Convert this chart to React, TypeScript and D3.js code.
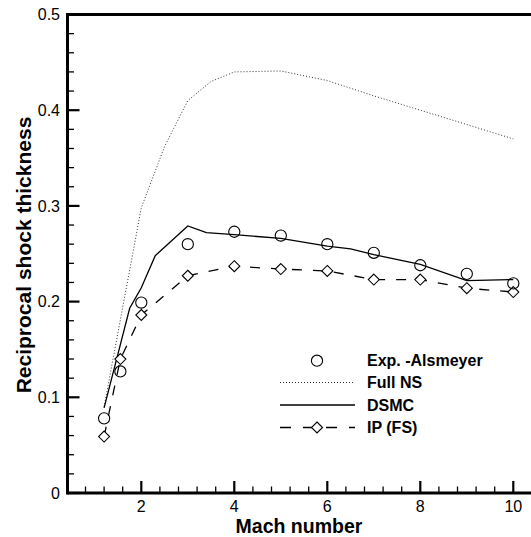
import React from "react";
import * as d3 from "d3";

const W = 531;
const H = 537;

const expMach = [1.2, 1.55, 2, 3, 4, 5, 6, 7, 8, 9, 10];
const expValues = [0.078, 0.127, 0.199, 0.26, 0.273, 0.269, 0.26, 0.251, 0.238, 0.229, 0.219];

const nsMach = [1.2, 2, 2.5, 3, 3.5, 4, 5, 6, 7, 8, 9, 10];
const nsValues = [0.09, 0.298, 0.362, 0.41, 0.43, 0.44, 0.441, 0.431, 0.415, 0.4, 0.385, 0.37];

const dsmcMach = [1.2, 1.75, 2, 2.3, 3, 3.4, 4, 5, 6, 6.5, 7, 8, 9, 10];
const dsmcValues = [0.089, 0.193, 0.2145, 0.248, 0.279, 0.272, 0.27, 0.266, 0.258, 0.255, 0.249, 0.239, 0.222, 0.223];

const ipMach = [1.2, 1.55, 2, 3, 4, 5, 6, 7, 8, 9, 10];
const ipValues = [0.059, 0.14, 0.186, 0.227, 0.237, 0.234, 0.232, 0.223, 0.223, 0.214, 0.21];

const xMajorTicks = [2, 4, 6, 8, 10];
const yMajorTicks = [0, 0.1, 0.2, 0.3, 0.4, 0.5];
const legendLabels = ["Exp. -Alsmeyer", "Full NS", "DSMC", "IP (FS)"];

const FONT = "'Liberation Sans', Arial, Helvetica, sans-serif";

export default function App() {
  const left = 67.5;
  const top = 14.5;
  const bottom = 493;
  const x = d3.scaleLinear().domain([2, 10]).range([141.3, 513.3]);
  const xMin = x.invert(left);
  const y = d3.scaleLinear().domain([0, 0.5]).range([bottom, top]);

  const line = d3
    .line<[number, number]>()
    .x((d) => x(d[0]))
    .y((d) => y(d[1]));

  const zip = (a: number[], b: number[]) => a.map((v, i) => [v, b[i]] as [number, number]);

  const xMinor: number[] = [];
  for (let v = 0.8; v < 10.6; v += 0.4) {
    const r = Math.round(v * 10) / 10;
    if (!xMajorTicks.includes(r)) xMinor.push(r);
  }
  const yMinor: number[] = [];
  for (let v = 0.02; v < 0.5; v += 0.02) {
    const r = Math.round(v * 100) / 100;
    if (Math.abs(r * 10 - Math.round(r * 10)) > 1e-6) yMinor.push(r);
  }

  const diamond = (cx: number, cy: number, s = 5.5) =>
    `M${cx},${cy - s}L${cx + s},${cy}L${cx},${cy + s}L${cx - s},${cy}Z`;

  const legendX0 = 280;
  const legendX1 = 355;
  const legendTextX = 367;
  const legendRows = [360.7, 382.5, 405, 427.5];

  return (
    <svg
      width={W}
      height={H}
      style={{ position: "absolute", left: 0, top: 0, background: "#fff" }}
      fontFamily={FONT}
    >
      <defs>
        <clipPath id="plotClip">
          <rect x={left} y={top} width={W - left} height={bottom - top} />
        </clipPath>
      </defs>

      {/* minor ticks */}
      {xMinor.map((v) => (
        <line key={"xm" + v} x1={x(v)} x2={x(v)} y1={bottom} y2={bottom - 6.5} stroke="#000" strokeWidth={1.3} />
      ))}
      {xMajorTicks.map((v) => (
        <line key={"xM" + v} x1={x(v)} x2={x(v)} y1={bottom} y2={bottom - 12} stroke="#000" strokeWidth={2.2} />
      ))}
      {yMinor.map((v) => (
        <line key={"ym" + v} x1={left} x2={left + 6.5} y1={y(v)} y2={y(v)} stroke="#000" strokeWidth={1.3} />
      ))}
      {yMajorTicks.map((v) => (
        <line key={"yM" + v} x1={left} x2={left + 12} y1={y(v)} y2={y(v)} stroke="#000" strokeWidth={2.2} />
      ))}

      {/* axes frame */}
      <line x1={left} x2={W + 5} y1={top} y2={top} stroke="#000" strokeWidth={3} />
      <line x1={left} x2={W + 5} y1={bottom} y2={bottom} stroke="#000" strokeWidth={3} />
      <line x1={left} x2={left} y1={top - 1.5} y2={bottom + 1.5} stroke="#000" strokeWidth={3} />

      {/* tick labels */}
      {xMajorTicks.map((v) => (
        <text key={"xl" + v} x={x(v)} y={512} textAnchor="middle" fontSize={16} fill="#000">
          {v}
        </text>
      ))}
      {yMajorTicks.map((v) => (
        <text key={"yl" + v} x={60} y={y(v)} dy="0.36em" textAnchor="end" fontSize={16} fill="#000">
          {v === 0 ? "0" : v.toString()}
        </text>
      ))}

      {/* axis titles */}
      <text x={299} y={533} textAnchor="middle" fontSize={19.5} fontWeight="bold" fill="#000">
        Mach number
      </text>
      <text
        transform={`translate(31,255) rotate(-90)`}
        textAnchor="middle"
        fontSize={21}
        fontWeight="bold"
        fill="#000"
      >
        Reciprocal shock thickness
      </text>

      <g clipPath="url(#plotClip)">
        {/* Full NS */}
        <path d={line(zip(nsMach, nsValues)) || ""} fill="none" stroke="#333" strokeWidth={1} strokeDasharray="1,2" />
        {/* DSMC */}
        <path d={line(zip(dsmcMach, dsmcValues)) || ""} fill="none" stroke="#000" strokeWidth={1.3} />
        {/* IP (FS) */}
        <path d={line(zip(ipMach, ipValues)) || ""} fill="none" stroke="#000" strokeWidth={1.3} strokeDasharray="10,11" />
        {ipMach.map((m, i) => (
          <path key={"ip" + i} d={diamond(x(m), y(ipValues[i]))} fill="#fff" stroke="#000" strokeWidth={1.1} />
        ))}
        {expMach.map((m, i) => (
          <circle key={"ex" + i} cx={x(m)} cy={y(expValues[i])} r={5.6} fill="none" stroke="#000" strokeWidth={1.1} />
        ))}
      </g>

      {/* legend */}
      <circle cx={(legendX0 + legendX1) / 2 - 0.5} cy={legendRows[0]} r={5.6} fill="none" stroke="#000" strokeWidth={1.1} />
      <line x1={legendX0} x2={legendX1} y1={legendRows[1]} y2={legendRows[1]} stroke="#333" strokeWidth={1} strokeDasharray="1,2" />
      <line x1={legendX0} x2={legendX1} y1={legendRows[2]} y2={legendRows[2]} stroke="#000" strokeWidth={1.3} />
      <line x1={legendX0} x2={legendX1} y1={legendRows[3]} y2={legendRows[3]} stroke="#000" strokeWidth={1.3} strokeDasharray="11,12" />
      <path d={diamond((legendX0 + legendX1) / 2 - 0.5, legendRows[3])} fill="#fff" stroke="#000" strokeWidth={1.1} />
      {legendLabels.map((t, i) => (
        <text key={t} x={legendTextX} y={legendRows[i]} dy="0.36em" fontSize={16} fontWeight="bold" fill="#000">
          {t}
        </text>
      ))}
    </svg>
  );
}
